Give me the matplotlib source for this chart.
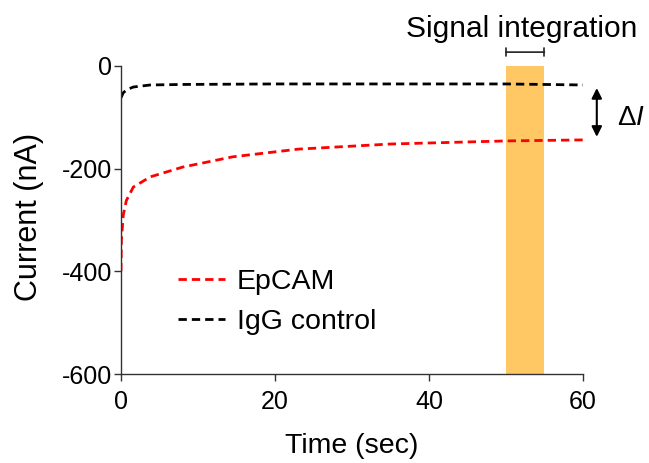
import numpy as np
import matplotlib
matplotlib.use('Agg')
import matplotlib.pyplot as plt

plt.rcParams['font.family'] = ['Liberation Sans', 'DejaVu Sans']
plt.rcParams['mathtext.fontset'] = 'custom'
plt.rcParams['mathtext.rm'] = 'Liberation Sans'
plt.rcParams['mathtext.it'] = 'Liberation Sans:italic'

# data
time = [0, 0.05, 0.3, 0.7, 1.6, 3.8, 8, 14.5, 23, 35, 50, 60]
epcam = [-400, -340, -290, -262, -236, -216, -197, -177, -162, -152, -146, -144]
igg_time = [0, 0.3, 0.8, 1.6, 3.8, 8, 20, 40, 50, 60]
igg = [-62, -52, -46, -41, -37, -36, -35, -35, -35, -37]

band = (50, 55)
xticks = [0, 20, 40, 60]
yticks = [0, -200, -400, -600]

fig = plt.figure(figsize=(6.49, 4.63), dpi=100)
ax = fig.add_axes([0.1864, 0.1922, 0.7118, 0.6653])

ax.axvspan(band[0], band[1], color='#FFC864', zorder=0, lw=0)

dash = (0, (3, 1.8))
ax.plot(time, epcam, color='#FF0000', ls=dash, lw=2, label='EpCAM')
ax.plot(igg_time, igg, color='black', ls=dash, lw=2, label='IgG control')

ax.set_xlim(0, 60)
ax.set_ylim(-600, 0)
ax.set_xticks(xticks)
ax.set_yticks(yticks)
ax.set_xticklabels([str(t) for t in xticks])
ax.set_yticklabels([str(t) for t in yticks])
ax.tick_params(labelsize=18, length=5, width=1, direction='out', color='#333333')
ax.tick_params(axis='x', pad=6.5)
ax.tick_params(axis='y', pad=1.5)
for s in ['top', 'right']:
    ax.spines[s].set_visible(False)
for s in ['left', 'bottom']:
    ax.spines[s].set_color('#333333')
    ax.spines[s].set_linewidth(1)

ax.set_xlabel('Time (sec)', fontsize=20.5)
ax.set_ylabel('Current (nA)', fontsize=22)
ax.xaxis.set_label_coords(0.5, -0.19)
ax.yaxis.set_label_coords(-0.167, 0.51)

ax.legend(loc='center left', bbox_to_anchor=(0.123, 0.235), frameon=False,
          fontsize=20.5, handlelength=1.65, handletextpad=0.42, labelspacing=0.5,
          borderpad=0, borderaxespad=0)

# signal integration bracket
ax.annotate('', xy=(band[0], 27), xytext=(band[1], 27),
            annotation_clip=False,
            arrowprops=dict(arrowstyle='|-|, widthA=0.3, widthB=0.3', lw=1.2, color='#222222',
                            shrinkA=0, shrinkB=0))
ax.text(52.1, 72, 'Signal integration', fontsize=21.5, ha='center', va='center', clip_on=False)

# delta I arrow
ax.annotate('', xy=(61.8, -138), xytext=(61.8, -43), annotation_clip=False,
            arrowprops=dict(arrowstyle='<|-|>, head_width=0.3, head_length=0.6', lw=1.5,
                            color='black', shrinkA=0, shrinkB=0))
ax.text(64.4, -101, r'$\Delta I$', fontsize=20, ha='left', va='center', clip_on=False)

fig.savefig('out.png', dpi=100)
